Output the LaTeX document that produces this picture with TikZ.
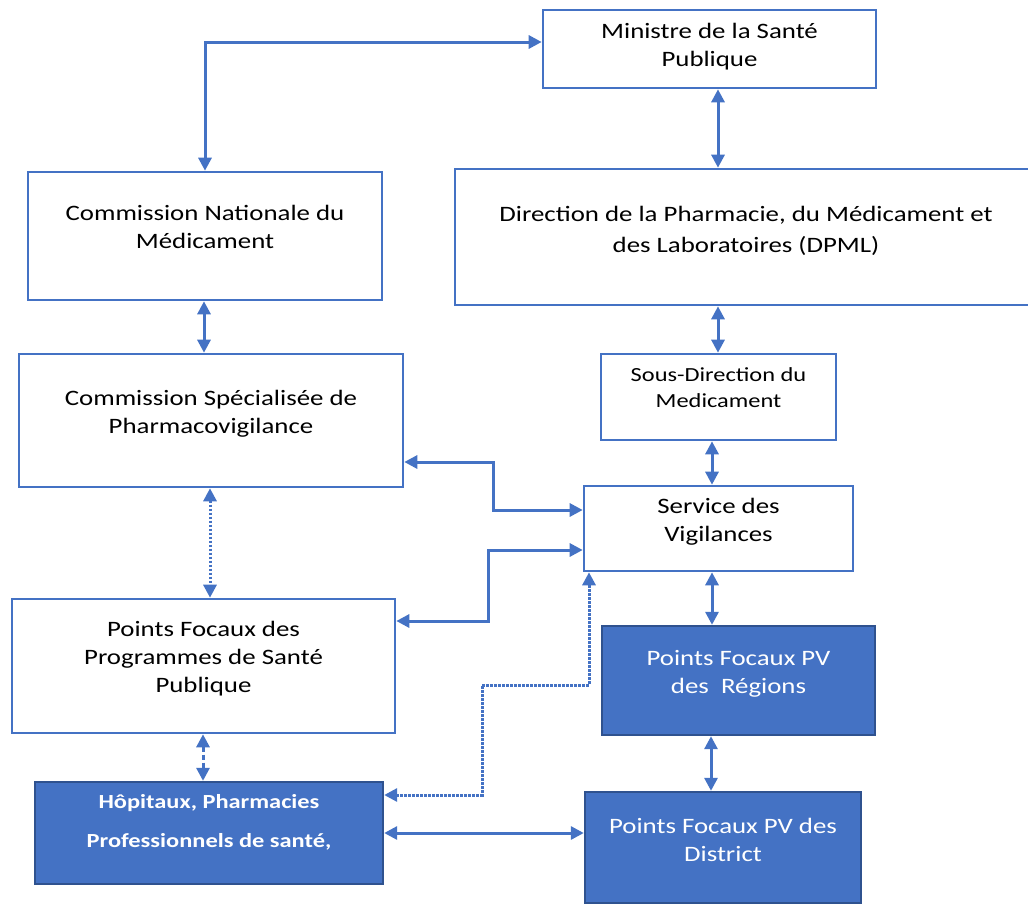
\documentclass[tikz,border=0pt]{standalone}
\usepackage{fontspec}
\setmainfont{Carlito}[FakeStretch=1.22]
\usetikzlibrary{arrows.meta}
\definecolor{lineblue}{HTML}{4472C4}
\definecolor{darkblue}{HTML}{2F528F}
\newcommand\lowpad[1]{\rule[-#1pt]{0pt}{#1pt}}
\begin{document}
\begin{tikzpicture}[x=1pt,y=-1pt,
  box/.style={draw=lineblue, line width=2.6pt, fill=white, align=center, inner sep=0pt,
    font=\fontsize{22}{28}\selectfont, text=black},
  fbox/.style={draw=darkblue, line width=2.4pt, fill=lineblue, align=center, inner sep=0pt,
    font=\fontsize{22}{28}\selectfont, text=white},
  conn/.style={draw=lineblue, line width=3pt,
    {Triangle[length=13pt,width=13pt]}-{Triangle[length=13pt,width=13pt]}},
  dotconn/.style={conn, dash pattern=on 2.2pt off 1.8pt},
  dashconn/.style={conn, dash pattern=on 5pt off 3pt}]
\useasboundingbox[fill=white] (0,0) rectangle (1028,905);

\node[box, minimum width=333, minimum height=78] (min) at (709.5,49)
  {Ministre de la Santé\\Publique\lowpad{9}};
\node[box, minimum width=354, minimum height=128] (cnm) at (205,236)
  {Commission Nationale du\\Médicament\lowpad{19}};
\node[box, minimum width=582, minimum height=136, font=\fontsize{22}{31}\selectfont] (dpml) at (746,237)
  {Direction de la Pharmacie, du Médicament et\\des Laboratoires (DPML)\lowpad{15}};
\node[box, minimum width=384, minimum height=133] (csp) at (211,420.5)
  {Commission Spécialisée de\\Pharmacovigilance\lowpad{18}};
\node[box, minimum width=235, minimum height=86, font=\fontsize{20}{26}\selectfont] (sdm) at (718.5,397)
  {Sous-Direction du\\Medicament\lowpad{19}};
\node[box, minimum width=269, minimum height=85] (sv) at (718.5,528.5)
  {Service des\\Vigilances\lowpad{17}};
\node[box, minimum width=383, minimum height=134] (pfpsp) at (203.5,666)
  {Points Focaux des\\Programmes de Santé\\Publique\lowpad{19}};
\node[fbox, minimum width=273, minimum height=109] (pfr) at (738.5,680.5)
  {Points Focaux PV\\des~~Régions\lowpad{18}};
\node[fbox, minimum width=348, minimum height=102, font=\bfseries\fontsize{20}{28}\selectfont] (hp) at (209,833)
  {Hôpitaux, Pharmacies\\[11pt]Professionnels de santé,\lowpad{24}};
\node[fbox, minimum width=276, minimum height=111] (pfd) at (723,847.5)
  {Points Focaux PV des\\District\lowpad{16}};

\draw[conn] (cnm.north) |- (min.west |- 0,42);
\draw[conn] (min.south -| 718,0) -- (dpml.north -| 718,0);
\draw[conn] (cnm.south -| 204,0) -- (csp.north -| 204,0);
\draw[conn] (dpml.south -| 718,0) -- (sdm.north -| 718,0);
\draw[conn] (sdm.south -| 712,0) -- (sv.north -| 712,0);
\draw[conn] (csp.east |- 0,462) -- (493,462) -- (493,510) -- (sv.west |- 0,510);
\draw[conn] (pfpsp.east |- 0,621) -- (488,621) -- (488,550) -- (sv.west |- 0,550);
\draw[dotconn] (csp.south -| 210,0) -- (pfpsp.north -| 210,0);
\draw[conn] (sv.south -| 712,0) -- (pfr.north -| 712,0);
\draw[dashconn] (pfpsp.south -| 203,0) -- (hp.north -| 203,0);
\draw[dotconn] (hp.east |- 0,795) -- (482,795) -- (482,685) -- (589,685) -- (sv.south -| 589,0);
\draw[conn] (hp.east |- 0,833) -- (pfd.west |- 0,833);
\draw[conn] (pfr.south -| 711,0) -- (pfd.north -| 711,0);
\end{tikzpicture}
\end{document}
